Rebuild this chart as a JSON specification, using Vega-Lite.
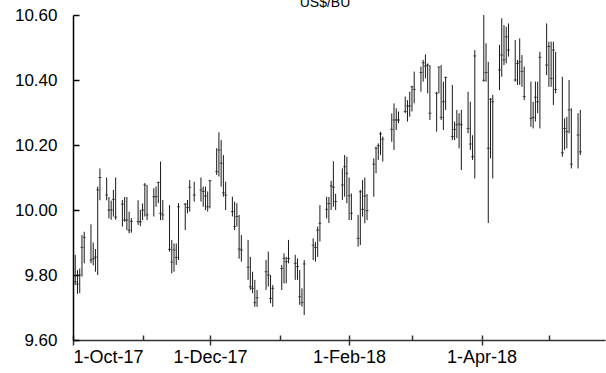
{
  "$schema": "https://vega.github.io/schema/vega-lite/v6.json",
  "width": 532,
  "height": 325,
  "autosize": {"type": "none"},
  "padding": {"left": 73, "top": 15, "right": 1, "bottom": 33},
  "title": {"text": "US$/BU", "fontSize": 14, "font": "Liberation Sans", "fontWeight": "normal", "color": "#000", "offset": 0, "baseline": "alphabetic", "dx": -14, "dy": 15},
  "data": {"values": [
    {"d":"2017-10-02","h":9.862,"l":9.769,"c":9.779},
    {"d":"2017-10-03","h":9.815,"l":9.742,"c":9.772},
    {"d":"2017-10-04","h":9.82,"l":9.744,"c":9.80},
    {"d":"2017-10-05","h":9.923,"l":9.795,"c":9.885},
    {"d":"2017-10-06","h":9.933,"l":9.836,"c":9.916},
    {"d":"2017-10-09","h":9.956,"l":9.836,"c":9.846},
    {"d":"2017-10-10","h":9.90,"l":9.83,"c":9.85},
    {"d":"2017-10-11","h":9.88,"l":9.81,"c":9.855},
    {"d":"2017-10-12","h":10.072,"l":9.80,"c":10.062},
    {"d":"2017-10-13","h":10.128,"l":10.03,"c":10.10},
    {"d":"2017-10-16","h":10.10,"l":10.03,"c":10.046},
    {"d":"2017-10-17","h":10.04,"l":9.974,"c":10.00},
    {"d":"2017-10-18","h":10.029,"l":9.97,"c":10.00},
    {"d":"2017-10-19","h":10.062,"l":9.98,"c":10.033},
    {"d":"2017-10-20","h":10.10,"l":9.97,"c":9.978},
    {"d":"2017-10-23","h":10.031,"l":9.949,"c":10.018},
    {"d":"2017-10-24","h":10.04,"l":9.964,"c":9.969},
    {"d":"2017-10-25","h":10.04,"l":9.938,"c":9.969},
    {"d":"2017-10-26","h":9.995,"l":9.928,"c":9.938},
    {"d":"2017-10-27","h":9.975,"l":9.93,"c":9.965},
    {"d":"2017-10-30","h":10.03,"l":9.954,"c":9.964},
    {"d":"2017-10-31","h":10.0,"l":9.95,"c":9.964},
    {"d":"2017-11-01","h":10.02,"l":9.969,"c":10.0},
    {"d":"2017-11-02","h":10.083,"l":9.98,"c":10.077},
    {"d":"2017-11-03","h":10.077,"l":9.969,"c":9.985},
    {"d":"2017-11-06","h":10.067,"l":9.98,"c":10.041},
    {"d":"2017-11-07","h":10.072,"l":10.01,"c":10.041},
    {"d":"2017-11-08","h":10.087,"l":10.021,"c":10.085},
    {"d":"2017-11-09","h":10.149,"l":9.969,"c":9.99},
    {"d":"2017-11-10","h":10.031,"l":9.969,"c":9.985},
    {"d":"2017-11-13","h":10.015,"l":9.872,"c":9.879},
    {"d":"2017-11-14","h":9.908,"l":9.805,"c":9.84},
    {"d":"2017-11-15","h":9.897,"l":9.81,"c":9.877},
    {"d":"2017-11-16","h":9.897,"l":9.831,"c":9.854},
    {"d":"2017-11-17","h":10.021,"l":9.846,"c":10.01},
    {"d":"2017-11-20","h":10.021,"l":9.938,"c":10.018},
    {"d":"2017-11-21","h":10.031,"l":9.99,"c":10.008},
    {"d":"2017-11-22","h":10.092,"l":9.995,"c":10.07},
    {"d":"2017-11-24","h":10.087,"l":10.026,"c":10.046},
    {"d":"2017-11-27","h":10.10,"l":10.026,"c":10.062},
    {"d":"2017-11-28","h":10.072,"l":10.01,"c":10.057},
    {"d":"2017-11-29","h":10.072,"l":10.0,"c":10.043},
    {"d":"2017-11-30","h":10.057,"l":9.995,"c":10.01},
    {"d":"2017-12-01","h":10.092,"l":10.005,"c":10.09},
    {"d":"2017-12-04","h":10.19,"l":10.108,"c":10.118},
    {"d":"2017-12-05","h":10.239,"l":10.103,"c":10.185},
    {"d":"2017-12-06","h":10.215,"l":10.072,"c":10.144},
    {"d":"2017-12-07","h":10.169,"l":10.041,"c":10.053},
    {"d":"2017-12-08","h":10.087,"l":10.0,"c":10.046},
    {"d":"2017-12-11","h":10.041,"l":9.98,"c":9.995},
    {"d":"2017-12-12","h":10.026,"l":9.938,"c":9.949},
    {"d":"2017-12-13","h":10.021,"l":9.949,"c":9.98},
    {"d":"2017-12-14","h":9.985,"l":9.85,"c":9.88},
    {"d":"2017-12-15","h":9.923,"l":9.841,"c":9.877},
    {"d":"2017-12-18","h":9.908,"l":9.785,"c":9.824},
    {"d":"2017-12-19","h":9.856,"l":9.754,"c":9.764},
    {"d":"2017-12-20","h":9.81,"l":9.744,"c":9.759},
    {"d":"2017-12-21","h":9.785,"l":9.702,"c":9.715},
    {"d":"2017-12-22","h":9.754,"l":9.702,"c":9.73},
    {"d":"2017-12-26","h":9.846,"l":9.754,"c":9.81},
    {"d":"2017-12-27","h":9.872,"l":9.764,"c":9.80},
    {"d":"2017-12-28","h":9.80,"l":9.713,"c":9.728},
    {"d":"2017-12-29","h":9.769,"l":9.702,"c":9.759},
    {"d":"2018-01-02","h":9.831,"l":9.754,"c":9.82},
    {"d":"2018-01-03","h":9.867,"l":9.774,"c":9.851},
    {"d":"2018-01-04","h":9.856,"l":9.774,"c":9.841},
    {"d":"2018-01-05","h":9.908,"l":9.836,"c":9.851},
    {"d":"2018-01-08","h":9.862,"l":9.785,"c":9.836},
    {"d":"2018-01-09","h":9.851,"l":9.785,"c":9.826},
    {"d":"2018-01-10","h":9.815,"l":9.708,"c":9.733},
    {"d":"2018-01-11","h":9.759,"l":9.703,"c":9.715},
    {"d":"2018-01-12","h":9.846,"l":9.677,"c":9.834},
    {"d":"2018-01-16","h":9.913,"l":9.846,"c":9.892},
    {"d":"2018-01-17","h":9.902,"l":9.841,"c":9.885},
    {"d":"2018-01-18","h":9.949,"l":9.856,"c":9.938},
    {"d":"2018-01-19","h":10.015,"l":9.903,"c":9.959},
    {"d":"2018-01-22","h":10.041,"l":9.974,"c":10.002},
    {"d":"2018-01-23","h":10.04,"l":9.96,"c":10.02},
    {"d":"2018-01-24","h":10.09,"l":10.0,"c":10.074},
    {"d":"2018-01-25","h":10.15,"l":10.01,"c":10.07},
    {"d":"2018-01-26","h":10.05,"l":10.0,"c":10.026},
    {"d":"2018-01-29","h":10.128,"l":10.031,"c":10.077},
    {"d":"2018-01-30","h":10.169,"l":10.041,"c":10.133},
    {"d":"2018-01-31","h":10.164,"l":10.021,"c":10.113},
    {"d":"2018-02-01","h":10.10,"l":9.969,"c":10.044},
    {"d":"2018-02-02","h":10.051,"l":9.969,"c":9.99},
    {"d":"2018-02-05","h":9.985,"l":9.887,"c":9.913},
    {"d":"2018-02-06","h":10.062,"l":9.892,"c":10.056},
    {"d":"2018-02-07","h":10.092,"l":9.98,"c":10.002},
    {"d":"2018-02-08","h":10.10,"l":9.959,"c":10.043},
    {"d":"2018-02-09","h":10.049,"l":9.969,"c":9.998},
    {"d":"2018-02-12","h":10.159,"l":10.041,"c":10.141},
    {"d":"2018-02-13","h":10.195,"l":10.113,"c":10.19},
    {"d":"2018-02-14","h":10.205,"l":10.154,"c":10.198},
    {"d":"2018-02-15","h":10.241,"l":10.169,"c":10.234},
    {"d":"2018-02-16","h":10.226,"l":10.149,"c":10.218},
    {"d":"2018-02-20","h":10.297,"l":10.21,"c":10.248},
    {"d":"2018-02-21","h":10.328,"l":10.185,"c":10.277},
    {"d":"2018-02-22","h":10.313,"l":10.246,"c":10.277},
    {"d":"2018-02-23","h":10.303,"l":10.267,"c":10.277},
    {"d":"2018-02-26","h":10.349,"l":10.298,"c":10.303},
    {"d":"2018-02-27","h":10.338,"l":10.272,"c":10.32},
    {"d":"2018-02-28","h":10.364,"l":10.287,"c":10.32},
    {"d":"2018-03-01","h":10.382,"l":10.303,"c":10.379},
    {"d":"2018-03-02","h":10.426,"l":10.328,"c":10.371},
    {"d":"2018-03-05","h":10.441,"l":10.364,"c":10.423},
    {"d":"2018-03-06","h":10.462,"l":10.395,"c":10.453},
    {"d":"2018-03-07","h":10.479,"l":10.405,"c":10.443},
    {"d":"2018-03-08","h":10.451,"l":10.359,"c":10.446},
    {"d":"2018-03-09","h":10.446,"l":10.277,"c":10.298},
    {"d":"2018-03-12","h":10.364,"l":10.241,"c":10.359},
    {"d":"2018-03-13","h":10.441,"l":10.359,"c":10.44},
    {"d":"2018-03-14","h":10.446,"l":10.277,"c":10.285},
    {"d":"2018-03-15","h":10.395,"l":10.246,"c":10.333},
    {"d":"2018-03-16","h":10.41,"l":10.308,"c":10.408},
    {"d":"2018-03-19","h":10.385,"l":10.215,"c":10.226},
    {"d":"2018-03-20","h":10.272,"l":10.215,"c":10.248},
    {"d":"2018-03-21","h":10.308,"l":10.221,"c":10.262},
    {"d":"2018-03-22","h":10.298,"l":10.19,"c":10.265},
    {"d":"2018-03-23","h":10.308,"l":10.123,"c":10.262},
    {"d":"2018-03-26","h":10.364,"l":10.236,"c":10.251},
    {"d":"2018-03-27","h":10.333,"l":10.185,"c":10.203},
    {"d":"2018-03-28","h":10.23,"l":10.154,"c":10.164},
    {"d":"2018-03-29","h":10.492,"l":10.097,"c":10.474},
    {"d":"2018-04-02","h":10.60,"l":10.395,"c":10.399},
    {"d":"2018-04-03","h":10.513,"l":10.395,"c":10.423},
    {"d":"2018-04-04","h":10.456,"l":9.96,"c":10.19},
    {"d":"2018-04-05","h":10.344,"l":10.159,"c":10.341},
    {"d":"2018-04-06","h":10.354,"l":10.097,"c":10.333},
    {"d":"2018-04-09","h":10.508,"l":10.369,"c":10.431},
    {"d":"2018-04-10","h":10.59,"l":10.41,"c":10.477},
    {"d":"2018-04-11","h":10.569,"l":10.446,"c":10.462},
    {"d":"2018-04-12","h":10.564,"l":10.451,"c":10.533},
    {"d":"2018-04-13","h":10.574,"l":10.472,"c":10.492},
    {"d":"2018-04-16","h":10.523,"l":10.395,"c":10.40},
    {"d":"2018-04-17","h":10.462,"l":10.385,"c":10.451},
    {"d":"2018-04-18","h":10.528,"l":10.385,"c":10.456},
    {"d":"2018-04-19","h":10.477,"l":10.379,"c":10.426},
    {"d":"2018-04-20","h":10.441,"l":10.338,"c":10.349},
    {"d":"2018-04-23","h":10.395,"l":10.256,"c":10.282},
    {"d":"2018-04-24","h":10.333,"l":10.251,"c":10.285},
    {"d":"2018-04-25","h":10.395,"l":10.272,"c":10.347},
    {"d":"2018-04-26","h":10.395,"l":10.298,"c":10.333},
    {"d":"2018-04-27","h":10.487,"l":10.251,"c":10.47},
    {"d":"2018-04-30","h":10.574,"l":10.415,"c":10.446},
    {"d":"2018-05-01","h":10.518,"l":10.379,"c":10.503},
    {"d":"2018-05-02","h":10.518,"l":10.379,"c":10.405},
    {"d":"2018-05-03","h":10.518,"l":10.323,"c":10.492},
    {"d":"2018-05-04","h":10.487,"l":10.359,"c":10.371},
    {"d":"2018-05-07","h":10.41,"l":10.164,"c":10.176},
    {"d":"2018-05-08","h":10.282,"l":10.185,"c":10.251},
    {"d":"2018-05-09","h":10.287,"l":10.19,"c":10.241},
    {"d":"2018-05-10","h":10.40,"l":10.236,"c":10.308},
    {"d":"2018-05-11","h":10.313,"l":10.128,"c":10.141},
    {"d":"2018-05-14","h":10.298,"l":10.128,"c":10.231},
    {"d":"2018-05-15","h":10.308,"l":10.169,"c":10.179}
  ]},
  "layer": [
    {
      "mark": {"type": "rule", "color": "#1a1a1a", "strokeWidth": 1},
      "encoding": {
        "x": {"field": "d", "type": "temporal",
          "scale": {"domain": ["2017-10-01", "2018-05-26"]},
          "axis": {"values": ["2017-10-01","2017-11-01","2017-12-01","2018-01-01","2018-02-01","2018-03-01","2018-04-01","2018-05-01"],
            "labels": false, "grid": false, "title": null, "tickSize": -5, "tickColor": "#333", "tickWidth": 1.5,
            "domainColor": "#333", "domainWidth": 1.5}},
        "y": {"field": "h", "type": "quantitative",
          "scale": {"domain": [9.6, 10.6], "nice": false, "zero": false},
          "axis": {"values": [9.6, 9.8, 10.0, 10.2, 10.4, 10.6], "format": ".2f", "grid": false, "title": null,
            "tickSize": -6, "tickColor": "#000", "tickWidth": 1.5, "domainColor": "#000", "domainWidth": 1.5,
            "labelFont": "Liberation Sans", "labelFontSize": 17, "labelColor": "#000", "labelPadding": 22}},
        "y2": {"field": "l"}
      }
    },
    {
      "mark": {"type": "tick", "orient": "horizontal", "size": 3, "thickness": 1, "color": "#1a1a1a"},
      "encoding": {
        "x": {"field": "d", "type": "temporal",
          "axis": {"orient": "bottom", "values": ["2017-10-01","2017-12-01","2018-02-01","2018-04-01"],
            "format": "%-d-%b-%y", "domain": false, "grid": false, "title": null,
            "tickSize": 5, "tickColor": "#333", "tickWidth": 1.5,
            "labelFont": "Liberation Sans", "labelFontSize": 18, "labelColor": "#000", "labelPadding": 3}},
        "y": {"field": "c", "type": "quantitative"}
      }
    }
  ],
  "resolve": {"axis": {"x": "independent"}},
  "config": {"view": {"stroke": null}}
}
